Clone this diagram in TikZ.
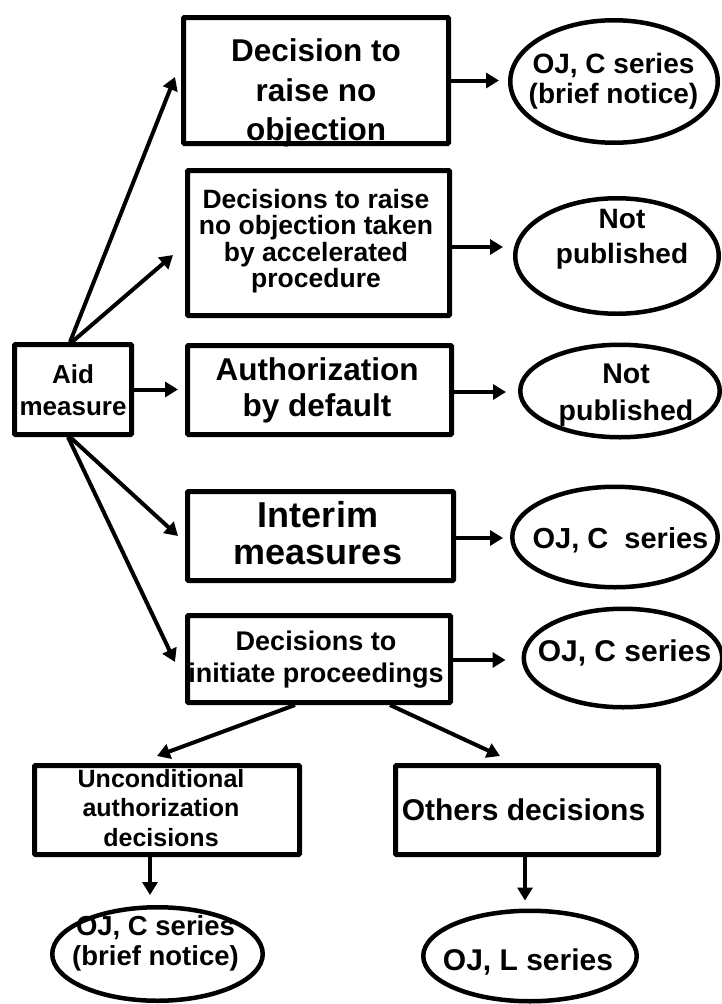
\documentclass[tikz,border=0pt]{standalone}
\usepackage{fontspec}
\setmainfont{Liberation Sans}
\usetikzlibrary{shapes.geometric,arrows.meta,calc}
\newcommand{\fs}[2]{\fontsize{#1}{#2}\selectfont}
\begin{document}
\begin{tikzpicture}[x=1pt,y=-1pt,
  box/.style={draw, line width=5pt, rounded corners=1pt, inner sep=0pt},
  oval/.style={draw, ellipse, line width=4.5pt, inner sep=0pt},
  lbl/.style={align=center, inner sep=0pt},
  arr/.style={line width=4pt, -{Triangle[length=13pt,width=15pt]}}]
\fill[white] (0,0) rectangle (722,1004);
\useasboundingbox (0,0) rectangle (722,1004);
% boxes
\node[box, minimum width=265pt, minimum height=126pt] (b1) at (316,80.5) {};
\node[box, minimum width=262pt, minimum height=145pt] (b2) at (318.5,243) {};
\node[box, minimum width=117pt, minimum height=90pt] (aid) at (73,389.5) {};
\node[box, minimum width=264pt, minimum height=89pt] (b3) at (319.5,390) {};
\node[box, minimum width=266pt, minimum height=89pt] (b4) at (320.5,536) {};
\node[box, minimum width=263pt, minimum height=87pt] (b5) at (319,659) {};
\node[box, minimum width=265pt, minimum height=89pt] (b6) at (167,810) {};
\node[box, minimum width=263pt, minimum height=89pt] (b7) at (527,810) {};
% ellipses
\node[oval, minimum width=207.5pt, minimum height=122.5pt] (e1) at (614,81.5) {};
\node[oval, minimum width=203.5pt, minimum height=115.5pt] (e2) at (617,256) {};
\node[oval, minimum width=199.5pt, minimum height=92.5pt] (e3) at (620,391) {};
\node[oval, minimum width=205.5pt, minimum height=100.5pt] (e4) at (615,537) {};
\node[oval, minimum width=198.5pt, minimum height=98.5pt] (e5) at (623,658) {};
\node[oval, minimum width=210.5pt, minimum height=93.5pt] (e6) at (157.5,954) {};
\node[oval, minimum width=213.5pt, minimum height=90.5pt] (e7) at (530,956) {};
% texts
\node[lbl, font=\bfseries\fs{31.5}{39.5}] (b1t) at (316,93) {Decision to\\raise no\\objection};
\node[lbl, font=\bfseries\fs{26.5}{26.5}] (b2t) at (316,241) {Decisions to raise\\no objection taken\\by accelerated\\procedure};
\node[lbl, font=\bfseries\fs{26}{32}] (aidt) at (73,390) {Aid\\measure};
\node[lbl, font=\bfseries\fs{31.5}{36}] (b3t) at (317,390) {Authorization\\by default};
\node[lbl, font=\bfseries\fs{36}{37}] (b4t) at (318,533) {Interim\\measures};
\node[lbl, font=\bfseries\fs{27}{32}] (b5t) at (316,660) {Decisions to\\initiate proceedings};
\node[lbl, font=\bfseries\fs{25}{29.5}] (b6t) at (161,808) {Unconditional\\authorization\\decisions};
\node[lbl, font=\bfseries\fs{30}{36}] (b7t) at (523.5,810) {Others decisions};
\node[lbl, font=\bfseries\fs{28}{30}] (e1t) at (613.5,81) {OJ, C series\\(brief notice)};
\node[lbl, font=\bfseries\fs{28}{35}] (e2t) at (622,239.5) {Not\\published};
\node[lbl, font=\bfseries\fs{28.5}{37}] (e3t) at (626,395.5) {Not\\published};
\node[lbl, font=\bfseries\fs{29}{35}] (e4t) at (620.5,540) {OJ, C~ series};
\node[lbl, font=\bfseries\fs{30}{35}] (e5t) at (624.5,653) {OJ, C series};
\node[lbl, font=\bfseries\fs{27.5}{30}] (e6t) at (155.5,943) {OJ, C series\\(brief notice)};
\node[lbl, font=\bfseries\fs{30}{35}] (e7t) at (528,962) {OJ, L series};
% connectors from aid
\draw[arr] ([xshift=-3pt]aid.north) -- ([xshift=-6pt,yshift=3.5pt]b1.west);
\draw[arr] ([xshift=-1pt]aid.north) -- ([xshift=-12pt,yshift=-12pt]b2.west);
\draw[arr] (aid.east) -- ([xshift=-7pt]aid.east -| b3.west);
\draw[arr] ([xshift=-3pt]aid.south) -- ([xshift=-7pt]b4.west);
\draw[arr] ([xshift=-5pt]aid.south) -- ([xshift=-10pt,yshift=-3pt]b5.west);
% to ellipses
\draw[arr] (b1.east) -- ($(b1.east -| e1.west)+(-9,0)$);
\draw[arr] ([yshift=-4pt]b2.east) -- ($([yshift=-4pt]b2.east -| e2.west)+(-10,0)$);
\draw[arr] ([yshift=-2pt]b3.east) -- ($([yshift=-2pt]b3.east -| e3.west)+(-12,0)$);
\draw[arr] ([yshift=-2pt]b4.east) -- ($([yshift=-2pt]b4.east -| e4.west)+(-7,0)$);
\draw[arr] ([yshift=-1pt]b5.east) -- ($([yshift=-1pt]b5.east -| e5.west)+(-16,0)$);
% lower part
\draw[arr] ([xshift=-24pt]b5.south) -- ([xshift=-10pt,yshift=7pt]b6.north);
\draw[arr] ([xshift=71pt]b5.south) -- ([xshift=-27pt,yshift=7pt]b7.north);
\draw[arr, shorten >=10pt] ([xshift=-17pt]b6.south) -- ([xshift=-17pt]b6.south |- e6.north);
\draw[arr, shorten >=8pt] ([xshift=-2pt]b7.south) -- ([xshift=-2pt]b7.south |- e7.north);
\end{tikzpicture}
\end{document}
